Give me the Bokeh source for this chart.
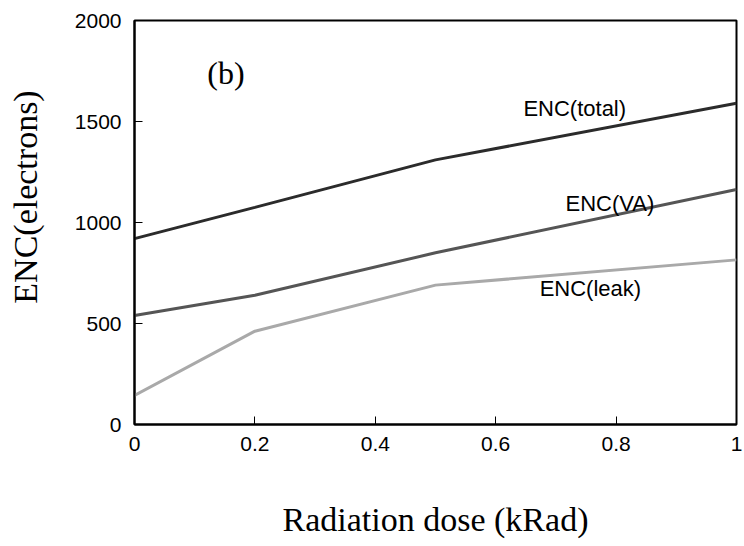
from bokeh.plotting import figure
from bokeh.models import Range1d, FixedTicker, Label
from bokeh.embed import file_html
from bokeh.resources import INLINE

# ---- data ----
dose = [0.0, 0.2, 0.5, 1.0]
enc_total = [920, 1075, 1310, 1590]
enc_va = [540, 640, 850, 1163]
enc_leak = [144, 462, 690, 815]

x_ticks = [0, 0.2, 0.4, 0.6, 0.8, 1]
x_tick_labels = ["0", "0.2", "0.4", "0.6", "0.8", "1"]
y_ticks = [0, 500, 1000, 1500, 2000]
y_tick_labels = ["0", "500", "1000", "1500", "2000"]

series_names = ["ENC(total)", "ENC(VA)", "ENC(leak)"]
label_x = [0.646, 0.716, 0.673]
label_y = [1564, 1094, 673]

SERIF = "Liberation Serif"
SANS = "Liberation Sans"

p = figure(width=744, height=546, output_backend="svg", toolbar_location=None,
           x_range=Range1d(0, 1), y_range=Range1d(0, 2000),
           min_border_left=134, min_border_right=8, min_border_top=20,
           min_border_bottom=122)
p.xgrid.visible = False
p.ygrid.visible = False
p.outline_line_color = "black"
p.outline_line_width = 2
p.outline_line_alpha = 1.0
p.background_fill_color = "white"
p.border_fill_color = "white"

for ax in (p.xaxis[0], p.yaxis[0]):
    ax.axis_line_width = 2
    ax.axis_line_color = "black"
    ax.major_tick_in = 8
    ax.major_tick_out = 0
    ax.major_tick_line_width = 1
    ax.minor_tick_line_color = None
    ax.major_label_text_font = SANS
    ax.major_label_text_font_size = "21px"
    ax.major_label_text_color = "black"
    ax.axis_label_text_font = SERIF
    ax.axis_label_text_font_size = "34px"
    ax.axis_label_text_font_style = "normal"
    ax.axis_label_text_color = "black"

p.xaxis[0].ticker = FixedTicker(ticks=x_ticks)
p.xaxis[0].major_label_overrides = dict(zip(x_ticks, x_tick_labels))
p.xaxis[0].major_label_standoff = 12
p.xaxis[0].axis_label = "Radiation dose (kRad)"
p.xaxis[0].axis_label_standoff = 47

p.yaxis[0].ticker = FixedTicker(ticks=y_ticks)
p.yaxis[0].major_label_overrides = dict(zip(y_ticks, y_tick_labels))
p.yaxis[0].major_label_standoff = 13
# leading no-break spaces lift the title toward the top, as in the reference
p.yaxis[0].axis_label = "\u00a0" * 6 + "ENC(electrons)"
p.yaxis[0].axis_label_standoff = 28

# series
p.line(dose, enc_total, line_color="#2b2b2b", line_width=3)
p.line(dose, enc_va, line_color="#555555", line_width=3)
p.line(dose, enc_leak, line_color="#a9a9a9", line_width=3)

for name, lx, ly in zip(series_names, label_x, label_y):
    p.add_layout(Label(x=lx, y=ly, text=name, text_font=SANS, text_font_size="22px",
                       text_align="left", text_baseline="middle", text_color="black"))

p.add_layout(Label(x=0.121, y=1738, text="(b)", text_font=SERIF, text_font_size="32px",
                   text_align="left", text_baseline="middle", text_color="black"))

open("out.html", "w").write(file_html(p, INLINE))
